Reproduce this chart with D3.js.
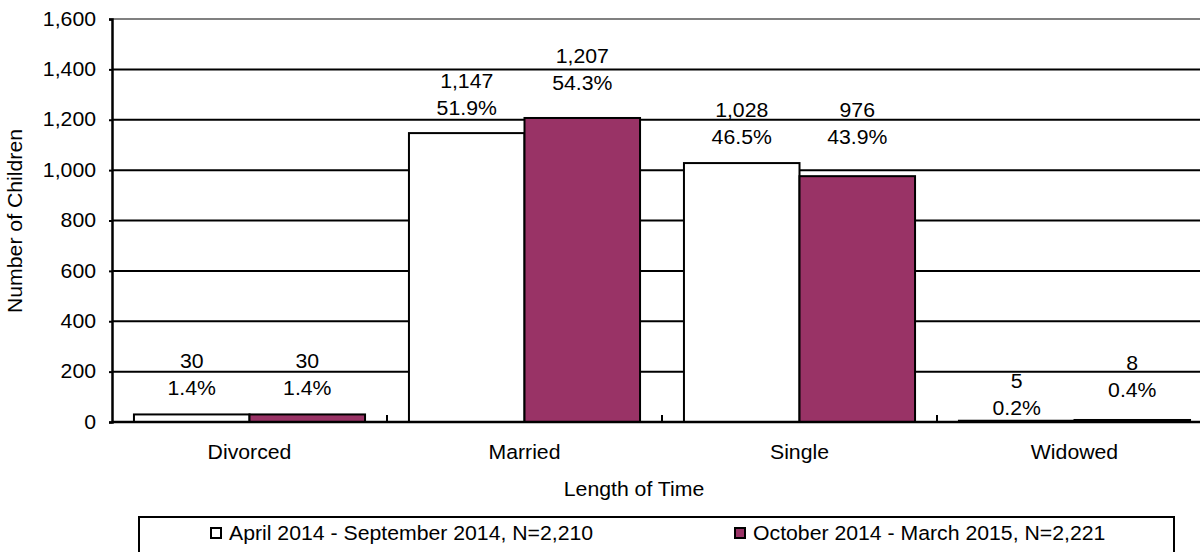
<!DOCTYPE html>
<html>
<head>
<meta charset="utf-8">
<script src="https://cdn.jsdelivr.net/npm/d3@7"></script>
<style>
  html, body { margin: 0; padding: 0; background: #fff; }
  svg { display: block; font-family: "Liberation Sans", Arial, sans-serif; }
</style>
</head>
<body>
<svg id="chart" width="1200" height="552"></svg>
<script>
// Marital status of the household, two reporting periods
const categories = ["Divorced", "Married", "Single", "Widowed"];
const seriesNames = [
  "April 2014 - September 2014, N=2,210",
  "October 2014 - March 2015, N=2,221"
];
const aprSepCounts = [30, 1147, 1028, 5];
const octMarCounts = [30, 1207, 976, 8];
const aprSepPct = ["1.4%", "51.9%", "46.5%", "0.2%"];
const octMarPct = ["1.4%", "54.3%", "43.9%", "0.4%"];
const yTickValues = [0, 200, 400, 600, 800, 1000, 1200, 1400, 1600];

// label placement: distance (px) of the percent line above the bar top
const labelLift = [
  [26, 26],
  [25, 35],
  [26, 39],
  [13, 30]
];

const colors = ["#ffffff", "#993366"];
const FONT = 19.5;
const STRETCH = 1.09;   // slightly wide lettering

const svg = d3.select("#chart");
const plot = { left: 112, right: 1212, top: 19, bottom: 422 };

// place a text at (x, y) with a horizontal stretch around its anchor
function placeText(sel, x, y) {
  return sel.attr("transform", `translate(${x},${y}) scale(${STRETCH},1)`);
}

const x0 = d3.scaleBand().domain(categories).range([plot.left, plot.right]).paddingInner(0).paddingOuter(0);
const x1 = d3.scaleBand().domain(d3.range(seriesNames.length)).range([0, x0.bandwidth()]).paddingInner(0).paddingOuter(0.19);
const y = d3.scaleLinear().domain([0, 1600]).range([plot.bottom, plot.top]);

// horizontal gridlines
svg.append("g")
  .selectAll("line")
  .data(yTickValues.filter(v => v > 0))
  .join("line")
  .attr("x1", plot.left).attr("x2", plot.right)
  .attr("y1", d => y(d)).attr("y2", d => y(d))
  .attr("stroke", d => d === 1600 ? "#808080" : "#000")
  .attr("stroke-width", 2);

// y axis
const yAxis = svg.append("g")
  .attr("transform", `translate(${plot.left},0)`)
  .call(d3.axisLeft(y).tickValues(yTickValues).tickSize(3).tickPadding(13).tickFormat(d3.format(",")));
yAxis.select(".domain").attr("stroke", "#000").attr("stroke-width", 2.5);
yAxis.selectAll(".tick line").attr("stroke", "#000").attr("stroke-width", 2);
yAxis.selectAll(".tick text")
  .attr("font-family", "Liberation Sans, Arial, sans-serif")
  .attr("font-size", FONT).attr("fill", "#000")
  .attr("transform", `scale(${STRETCH},1)`)
  .attr("x", -16 / STRETCH);

// bars
const series = [aprSepCounts, octMarCounts];
const pcts = [aprSepPct, octMarPct];
const rows = [];
categories.forEach((c, i) => {
  series.forEach((s, j) => rows.push({ cat: c, i, j, value: s[i], pct: pcts[j][i] }));
});

svg.append("g")
  .selectAll("rect")
  .data(rows)
  .join("rect")
  .attr("x", d => x0(d.cat) + x1(d.j))
  .attr("y", d => y(d.value))
  .attr("width", x1.bandwidth())
  .attr("height", d => y(0) - y(d.value))
  .attr("fill", d => colors[d.j])
  .attr("stroke", "#000")
  .attr("stroke-width", 2);

// x axis baseline with inward category ticks
const xAxis = svg.append("g").attr("transform", `translate(0,${plot.bottom})`);
xAxis.append("line")
  .attr("x1", plot.left).attr("x2", plot.right)
  .attr("stroke", "#000").attr("stroke-width", 2.5);
xAxis.selectAll("line.sep")
  .data(categories.slice(1))
  .join("line")
  .attr("class", "sep")
  .attr("x1", d => x0(d)).attr("x2", d => x0(d))
  .attr("y1", 0).attr("y2", -7)
  .attr("stroke", "#000").attr("stroke-width", 2);
xAxis.selectAll("text")
  .data(categories)
  .join("text")
  .each(function (d) { placeText(d3.select(this), x0(d) + x0.bandwidth() / 2, 30); })
  .attr("dy", "0.35em")
  .attr("text-anchor", "middle")
  .attr("font-size", FONT)
  .text(d => d);

// value labels: count and share
const lbl = svg.append("g").attr("font-size", FONT).attr("text-anchor", "middle");
rows.forEach(d => {
  const cx = x0(d.cat) + x1(d.j) + x1.bandwidth() / 2;
  const pctY = y(d.value) - labelLift[d.i][d.j];
  placeText(lbl.append("text"), cx, pctY).attr("dy", "0.35em").text(d.pct);
  placeText(lbl.append("text"), cx, pctY - 27).attr("dy", "0.35em").text(d3.format(",")(d.value));
});

// axis titles
placeText(svg.append("text"), (plot.left + 1200) / 2 - 22, 489)
  .attr("dy", "0.35em")
  .attr("text-anchor", "middle")
  .attr("font-size", FONT)
  .text("Length of Time");

svg.append("text")
  .attr("transform", `translate(15,221) rotate(-90) scale(${STRETCH},1)`)
  .attr("dy", "0.35em")
  .attr("text-anchor", "middle")
  .attr("font-size", FONT)
  .text("Number of Children");

// legend
const legend = svg.append("g");
legend.append("rect")
  .attr("x", 139).attr("y", 517)
  .attr("width", 1174 - 139).attr("height", 60)
  .attr("fill", "#fff").attr("stroke", "#000").attr("stroke-width", 2);
const legendX = [211, 735];
seriesNames.forEach((name, j) => {
  const g = legend.append("g").attr("transform", `translate(${legendX[j]},528)`);
  g.append("rect").attr("width", 10).attr("height", 10)
    .attr("fill", colors[j]).attr("stroke", "#000").attr("stroke-width", 2);
  placeText(g.append("text"), 18, 5).attr("dy", "0.35em")
    .attr("font-size", FONT).text(name);
});
</script>
</body>
</html>
